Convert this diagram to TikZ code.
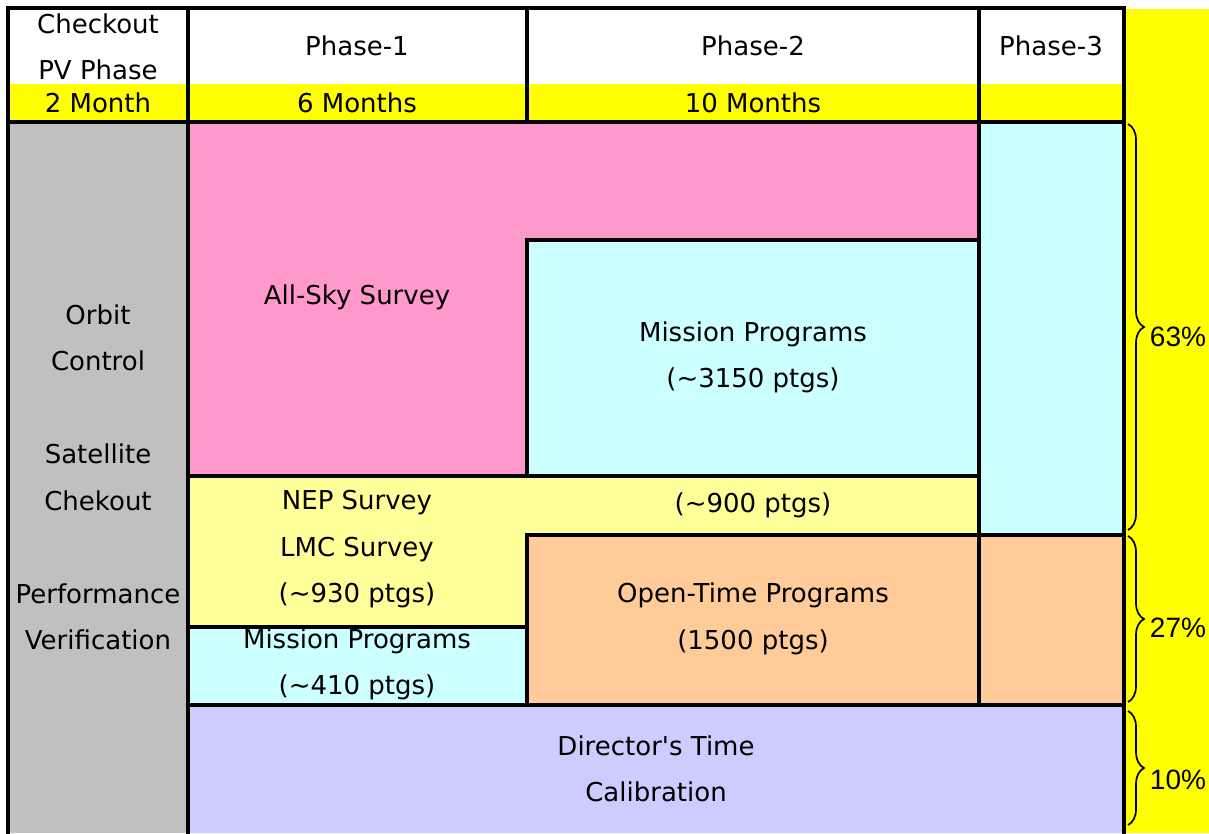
\documentclass[tikz,border=0pt]{standalone}
\usepackage{fontspec}
\setmainfont{DejaVu Sans}
\newfontfamily\pctfont{Liberation Sans}
\usetikzlibrary{decorations.pathreplacing}
\definecolor{cpink}{HTML}{FF99CC}
\definecolor{ccyan}{HTML}{CCFFFF}
\definecolor{clyel}{HTML}{FFFF99}
\definecolor{corange}{HTML}{FFCC99}
\definecolor{clav}{HTML}{CCCCFF}
\definecolor{cgray}{HTML}{C0C0C0}
\definecolor{cyel}{HTML}{FFFF00}
\tikzset{
  grid/.style={line width=3.2pt, line cap=rect},
  lbl/.style={font=\fontsize{26}{46.5}\selectfont, align=center, inner sep=0pt},
  pct/.style={font=\pctfont\fontsize{28}{30}\selectfont, inner sep=0pt},
  brc/.style={decorate, decoration={brace, amplitude=16pt}, line width=1.7pt},
}
\begin{document}
\begin{tikzpicture}[x=1pt,y=-1pt]
\useasboundingbox (0,0) rectangle (1209,833);
% fills
\fill[white] (0,0) rectangle (1209,833);
\fill[cyel] (1124,9) rectangle (1209,833);
\fill[cyel] (8,84) rectangle (1124,122);
\fill[cgray] (8,122) rectangle (188,833);
\fill[cpink] (188,122) -- (979,122) -- (979,240) -- (527,240) -- (527,476) -- (188,476) -- cycle;
\fill[ccyan] (527,240) rectangle (979,476);
\fill[ccyan] (979,122) rectangle (1124,535);
\fill[clyel] (188,476) -- (979,476) -- (979,535) -- (527,535) -- (527,627) -- (188,627) -- cycle;
\fill[ccyan] (188,627) rectangle (527,705);
\fill[corange] (527,535) rectangle (1124,705);
\fill[clav] (188,705) rectangle (1124,833);
% grid lines
\draw[grid] (8,840) -- (8,8) -- (1124,8) -- (1124,840);
\draw[grid] (188,8) -- (188,840);
\draw[grid] (527,8) -- (527,122);
\draw[grid] (527,240) -- (527,476);
\draw[grid] (527,535) -- (527,705);
\draw[grid] (979,8) -- (979,705);
\draw[grid] (8,122) -- (1124,122);
\draw[grid] (527,240) -- (979,240);
\draw[grid] (188,476) -- (979,476);
\draw[grid] (527,535) -- (1124,535);
\draw[grid] (188,627) -- (527,627);
\draw[grid] (188,705) -- (1124,705);
% header texts
\node[lbl] (hco) at (98,47) {Checkout\\PV Phase};
\node[lbl] (hp1) at (357,46) {Phase-1};
\node[lbl] (hp2) at (753,46) {Phase-2};
\node[lbl] (hp3) at (1051,46) {Phase-3};
\node[lbl] (m2) at (98,103) {2 Month};
\node[lbl] (m6) at (357,103) {6 Months};
\node[lbl] (m10) at (753,103) {10 Months};
% left column
\node[lbl] (left) at (98,477.5) {Orbit\\Control\\[46.5pt]Satellite\\Chekout\\[46.5pt]Performance\\Verification};
% body texts
\node[lbl] (allsky) at (357,297) {All-Sky Survey};
\node[lbl] (mp1) at (753,357.5) {Mission Programs\\(\textasciitilde3150 ptgs)};
\node[lbl] (nep) at (357,549.5) {NEP Survey\\LMC Survey\\(\textasciitilde930 ptgs)};
\node[lbl] (n900) at (753,505) {(\textasciitilde900 ptgs)};
\node[lbl] (open) at (753,619) {Open-Time Programs\\(1500 ptgs)};
\node[lbl] (mp2) at (357,664.5) {Mission Programs\\(\textasciitilde410 ptgs)};
\node[lbl] (dir) at (656,769) {Director\textquotesingle s Time\\Calibration};
% braces
\coordinate (b1a) at (1128,124);
\coordinate (b1b) at (1128,530);
\coordinate (b2a) at (1128,536);
\coordinate (b2b) at (1128,702);
\coordinate (b3a) at (1128,711);
\coordinate (b3b) at (1128,825);
\draw[brc] (b1a) -- (b1b);
\draw[brc] (b2a) -- (b2b);
\draw[brc] (b3a) -- (b3b);
\node[pct] (p63) at (1178,337) {63\%};
\node[pct] (p27) at (1178,628) {27\%};
\node[pct] (p10) at (1178,780) {10\%};
\end{tikzpicture}
\end{document}
